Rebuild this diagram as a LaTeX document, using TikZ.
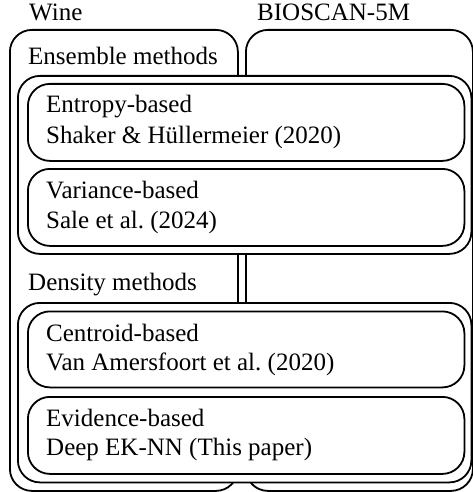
\documentclass[tikz,border=0pt]{standalone}
\usepackage{fontspec}
\setmainfont{Liberation Serif}
\frenchspacing
\begin{document}
\begin{tikzpicture}[x=1pt,y=-1pt,
  box/.style={draw, line width=1.8pt, rounded corners=22pt, fill=white,
    anchor=north west, inner sep=0pt},
  lbl/.style={anchor=base west, inner sep=0pt,
    font=\fontsize{25pt}{30pt}\selectfont}]
\useasboundingbox (0,0) rectangle (473,492);

% dataset columns
\node[box, minimum width=228pt, minimum height=461pt] (wine) at (9,29) {};
\node[box, minimum width=227pt, minimum height=461pt] (bioscan) at (245,29) {};

% method families
\node[box, minimum width=453.5pt, minimum height=178pt] (ensemble) at (17,75) {};
\node[box, minimum width=453.5pt, minimum height=179.5pt] (density) at (17,302) {};

% individual methods
\node[box, minimum width=436.5pt, minimum height=77pt] (entropy) at (27,83) {};
\node[box, minimum width=436.5pt, minimum height=77pt] (variance) at (27,168) {};
\node[box, minimum width=436.5pt, minimum height=76pt] (centroid) at (27,310.5) {};
\node[box, minimum width=436.5pt, minimum height=77pt] (evidence) at (27,396) {};

% labels
\node[lbl] (winelbl) at (29,20.5) {Wine};
\node[lbl] (bioscanlbl) at (257,20.5) {BIOSCAN-5M};
\node[lbl] (ensemblelbl) at (28,65) {Ensemble methods};
\node[lbl] (densitylbl) at (28,290) {Density methods};

\node[lbl] (entropy1) at (46,113) {Entropy-based};
\node[lbl] (entropy2) at (46,143) {Shaker \& Hüllermeier (2020)};
\node[lbl] (variance1) at (46,198) {Variance-based};
\node[lbl] (variance2) at (46,228) {Sale et al. (2024)};
\node[lbl] (centroid1) at (46,341) {Centroid-based};
\node[lbl] (centroid2) at (46,370.5) {Van Amersfoort et al. (2020)};
\node[lbl] (evidence1) at (46,426) {Evidence-based};
\node[lbl] (evidence2) at (46,455.5) {Deep EK-NN (This paper)};
\end{tikzpicture}
\end{document}
